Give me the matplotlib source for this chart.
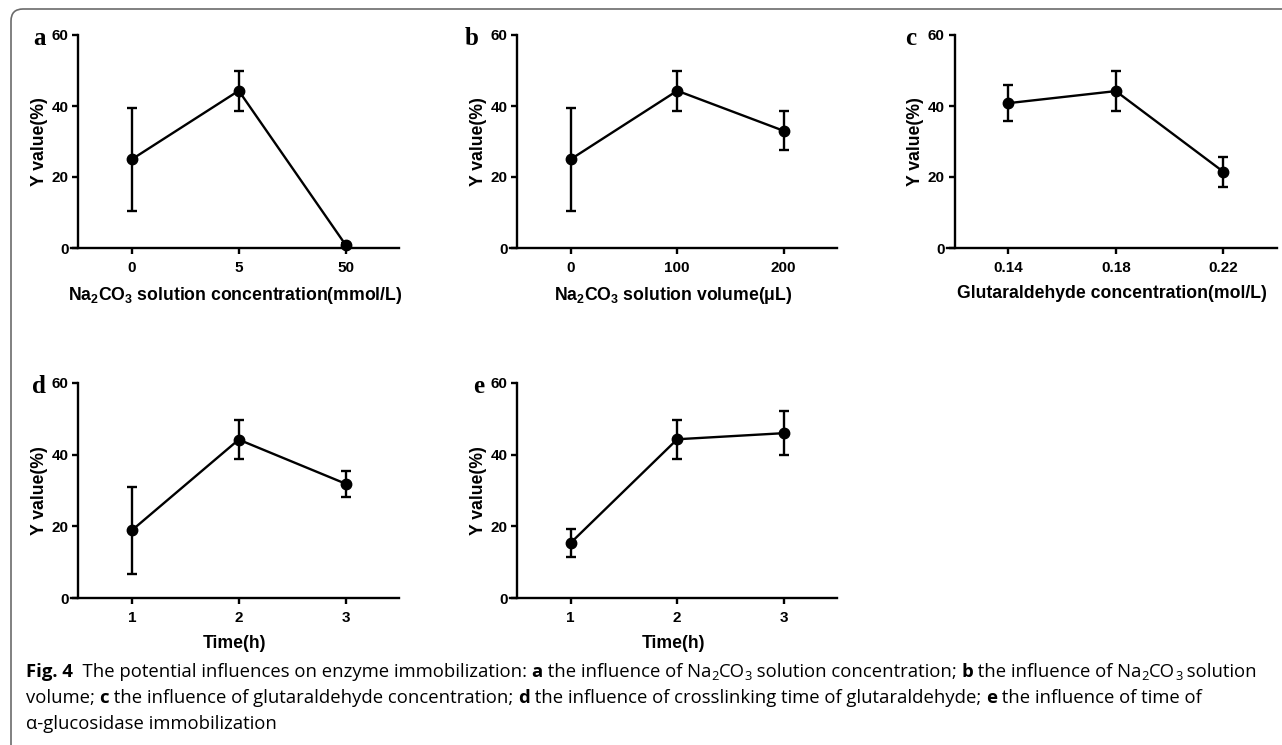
import matplotlib
matplotlib.use("Agg")
import matplotlib.pyplot as plt
from matplotlib.patches import FancyBboxPatch
from matplotlib.transforms import IdentityTransform

W, H = 1282, 745

# ---- data ----
conc_labels = ["0", "5", "50"]
conc_y = [25.0, 44.3, 0.9]
conc_err = [14.5, 5.6, 0.4]

vol_labels = ["0", "100", "200"]
vol_y = [25.0, 44.3, 33.0]
vol_err = [14.5, 5.6, 5.5]

glut_labels = ["0.14", "0.18", "0.22"]
glut_y = [40.8, 44.2, 21.5]
glut_err = [5.0, 5.6, 4.2]

time_labels = ["1", "2", "3"]
cross_y = [18.9, 44.2, 31.9]
cross_err = [12.1, 5.5, 3.6]

immob_y = [15.4, 44.3, 46.0]
immob_err = [3.9, 5.5, 6.2]

plt.rcParams["font.family"] = "Liberation Sans"
plt.rcParams["mathtext.fontset"] = "custom"
plt.rcParams["mathtext.rm"] = "Liberation Sans:bold"

fig = plt.figure(figsize=(W / 100, H / 100), dpi=100)


def px_axes(left, top, right, bottom):
    return fig.add_axes([left / W, 1 - bottom / H, (right - left) / W, (bottom - top) / H])


def draw_panel(ax, labels, y, err, xlabel):
    x = list(range(len(labels)))
    ax.errorbar(x, y, yerr=err, color="black", lw=1.7, marker="o", ms=7.5,
                capsize=3.5, capthick=1.7, elinewidth=1.7, zorder=3, clip_on=False)
    ax.set_xlim(-0.57, 2.5)
    ax.set_ylim(0, 60)
    ax.set_yticks([0, 20, 40, 60])
    ax.set_xticks(x)
    ax.set_xticklabels(labels)
    for s in ["top", "right"]:
        ax.spines[s].set_visible(False)
    ax.spines["left"].set_position(("data", -0.5))
    for s in ["left", "bottom"]:
        ax.spines[s].set_linewidth(1.7)
    ax.tick_params(width=1.7, length=4, labelsize=11, pad=3)
    ax.tick_params(axis="x", pad=5.5)
    for t in ax.get_xticklabels() + ax.get_yticklabels():
        t.set_fontweight("bold")
    ax.set_ylabel("Y value(%)", fontsize=12.7, fontweight="bold", labelpad=3)
    ax.set_xlabel(xlabel, fontsize=12.7, fontweight="bold", labelpad=7)
    ax.patch.set_alpha(0)


ax_a = px_axes(71, 35, 399, 248)
draw_panel(ax_a, conc_labels, conc_y, conc_err,
           r"Na$_2$CO$_3$ solution concentration(mmol/L)")
ax_b = px_axes(510, 35, 837, 248)
draw_panel(ax_b, vol_labels, vol_y, vol_err, r"Na$_2$CO$_3$ solution volume(μL)")
ax_c = px_axes(947, 35, 1277, 248)
draw_panel(ax_c, glut_labels, glut_y, glut_err, "Glutaraldehyde concentration(mol/L)")
ax_d = px_axes(71, 383, 399, 598)
draw_panel(ax_d, time_labels, cross_y, cross_err, "Time(h)")
ax_e = px_axes(510, 383, 837, 598)
draw_panel(ax_e, time_labels, immob_y, immob_err, "Time(h)")

# panel letters
for letter, px, py in [("a", 33, 45), ("b", 465, 45), ("c", 905, 45),
                       ("d", 32, 393), ("e", 473, 393)]:
    fig.text(px / W, 1 - py / H, letter, fontsize=18, fontweight="bold",
             family="Liberation Serif", ha="left", va="baseline")

# frame around figure
frame = FancyBboxPatch((11, -100), 1400, 836, boxstyle="round,pad=0,rounding_size=12",
                       transform=IdentityTransform(), fill=False, edgecolor="#6b6b6b", lw=1.2)
fig.add_artist(frame)

# caption
cap_font = "Open Sans"
cap_size = 13.3
caption = [
    [("Fig. 4", "bold", 0), ("  The potential influences on enzyme immobilization: ", "normal", 0),
     ("a", "bold", 0), (" the influence of Na", "normal", 0), ("2", "normal", 1),
     ("CO", "normal", 0), ("3", "normal", 1), (" solution concentration; ", "normal", 0),
     ("b", "bold", 0), (" the influence of Na", "normal", 0), ("2", "normal", 1),
     ("CO", "normal", 0), ("3", "normal", 1), (" solution", "normal", 0)],
    [("volume; ", "normal", 0), ("c", "bold", 0),
     (" the influence of glutaraldehyde concentration; ", "normal", 0), ("d", "bold", 0),
     (" the influence of crosslinking time of glutaraldehyde; ", "normal", 0),
     ("e", "bold", 0), (" the influence of time of", "normal", 0)],
    [("α-glucosidase immobilization", "normal", 0)],
]
baselines = [677, 703, 729]

renderer = fig.canvas.get_renderer()


def text_width(s, weight, size):
    a = fig.text(0, 0, "|" + s + "|", family=cap_font, fontsize=size, fontweight=weight)
    b = fig.text(0, 0, "||", family=cap_font, fontsize=size, fontweight=weight)
    w = a.get_window_extent(renderer).width - b.get_window_extent(renderer).width
    a.remove()
    b.remove()
    return w


for line, base in zip(caption, baselines):
    x = 26
    for s, weight, sub in line:
        size = cap_size * 0.7 if sub else cap_size
        y = base + 3 if sub else base
        fig.text(x / W, 1 - y / H, s, family=cap_font, fontsize=size,
                 fontweight=weight, va="baseline", ha="left")
        x += text_width(s, weight, size)

fig.savefig("out.png", dpi=100)
